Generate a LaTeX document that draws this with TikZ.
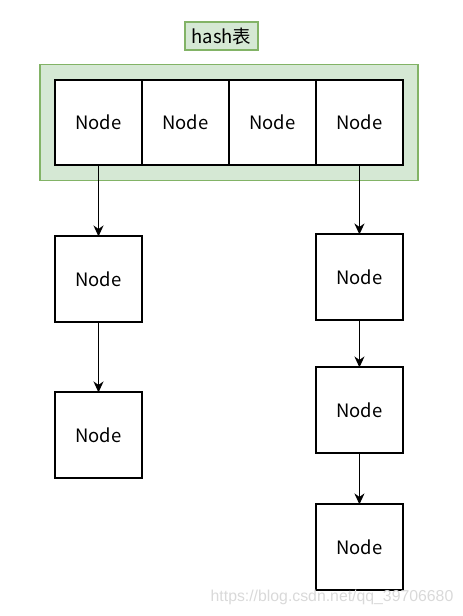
\documentclass[tikz,border=0pt]{standalone}
\usepackage{fontspec}
\setmainfont{Noto Sans CJK SC}
\newfontfamily\markfont{Liberation Sans}
\usetikzlibrary{positioning,fit,backgrounds,arrows.meta}
\definecolor{tablefill}{HTML}{D5E8D4}
\definecolor{tableline}{HTML}{82B366}
\tikzset{
  cell/.style={draw=black,line width=0.4mm,fill=white,minimum width=1.74cm,minimum height=1.72cm,
    inner sep=0,outer sep=0,font=\fontsize{10.5}{12}\selectfont},
  greenbox/.style={draw=tableline,fill=tablefill,line width=0.3mm},
  link/.style={line width=0.3mm,-{Stealth[length=2.2mm,width=2mm,inset=0.7mm]}}
}
\begin{document}
\begin{tikzpicture}[x=0.02cm,y=-0.02cm]
    \useasboundingbox (0,0) rectangle (463,616);
    %TITLE
    \node[greenbox,minimum width=1.46cm,minimum height=0.56cm,inner sep=0,
      font=\fontsize{10.5}{12}\selectfont] (title) at (221.5,36) {hash表};
    %HASH TABLE ROW
    \node[cell] (c1) at (98.5,122.5) {Node};
    \node[cell,right=0pt of c1] (c2) {Node};
    \node[cell,right=0pt of c2] (c3) {Node};
    \node[cell,right=0pt of c3] (c4) {Node};
    \begin{scope}[on background layer]
    \node[greenbox,fit=(c1)(c4),inner sep=0.3cm] (table) {};
    \end{scope}
    %LEFT CHAIN
    \node[cell,below=1.42cm of c1] (l1) {Node};
    \node[cell,below=1.4cm of l1] (l2) {Node};
    \draw[link] (c1) -- (l1);
    \draw[link] (l1) -- (l2);
    %RIGHT CHAIN
    \node[cell,below=1.38cm of c4] (r1) {Node};
    \node[cell,below=0.94cm of r1] (r2) {Node};
    \node[cell,below=1.02cm of r2] (r3) {Node};
    \draw[link] (c4) -- (r1);
    \draw[link] (r1) -- (r2);
    \draw[link] (r2) -- (r3);
    %WATERMARK
    \node[text=black!15,font=\markfont\fontsize{9}{11}\selectfont,inner sep=0] (mark) at (332,597) {https://blog.csdn.net/qq\_39706680};
\end{tikzpicture}
\end{document}
